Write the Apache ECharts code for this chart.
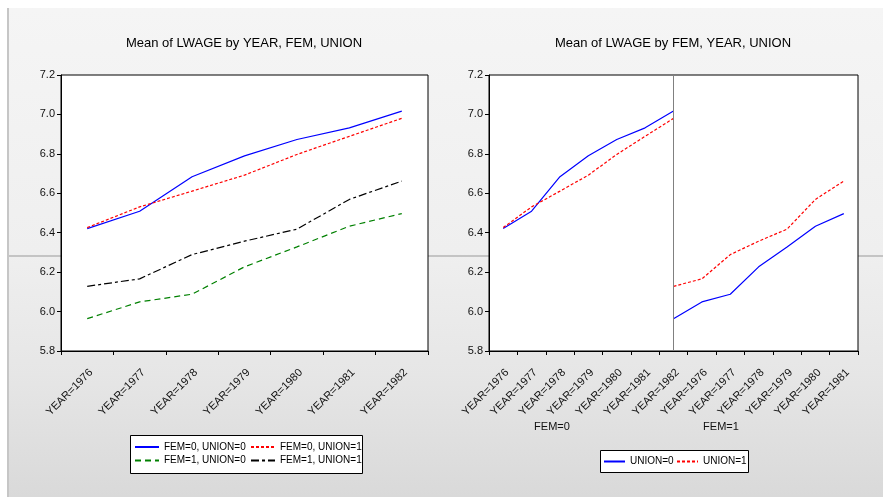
<!DOCTYPE html>
<html>
<head>
<meta charset="utf-8">
<script src="https://cdn.jsdelivr.net/npm/echarts@6/dist/echarts.min.js"></script>
<style>
  html, body { margin: 0; padding: 0; background: #fff; }
  #wrap { position: relative; width: 883px; height: 497px; overflow: hidden; background: #fff; }
  #bg { position: absolute; left: 9px; top: 8px; right: 0; bottom: 0;
        background: linear-gradient(to bottom, #f5f5f5 0%, #efefef 50%, #e6e6e6 75%, #d9d9d9 100%); }
  #vline { position: absolute; left: 7px; top: 8px; width: 2px; bottom: 0; background: #c6c6c6; }
  #hline { position: absolute; left: 9px; right: 0; top: 255px; height: 2px; background: #c4c4c4; }
  #ech { position: absolute; left: 0; top: 0; width: 883px; height: 497px; }
</style>
</head>
<body>
<div id="wrap">
  <div id="bg"></div>
  <div id="vline"></div>
  <div id="hline"></div>
  <div id="ech"></div>
</div>
<script>
// 数据
var years = ['YEAR=1976', 'YEAR=1977', 'YEAR=1978', 'YEAR=1979', 'YEAR=1980', 'YEAR=1981', 'YEAR=1982'];
var yTicks = [5.8, 6.0, 6.2, 6.4, 6.6, 6.8, 7.0, 7.2];
var fem0union0 = [6.421, 6.509, 6.684, 6.790, 6.873, 6.932, 7.017];
var fem0union1 = [6.426, 6.531, 6.611, 6.692, 6.797, 6.889, 6.980];
var fem1union0 = [5.964, 6.049, 6.088, 6.227, 6.328, 6.433, 6.497];
var fem1union1 = [6.128, 6.166, 6.289, 6.357, 6.418, 6.569, 6.662];
// 右图横轴标签 (EViews 原图就是13个)
var rightCats = years.concat(years.slice(0, 6));

var font = "'Liberation Sans Narrow', 'Liberation Sans', Arial, sans-serif";

function pad(arr, before, after) {
    var out = [];
    for (var i = 0; i < before; i++) out.push(null);
    out = out.concat(arr);
    for (var j = 0; j < after; j++) out.push(null);
    return out;
}

function xAxisOf(grid, cats) {
    return {
        type: 'category', gridIndex: grid, data: cats, boundaryGap: true,
        axisLine: { lineStyle: { color: '#000', width: 1 } },
        axisTick: { show: true, interval: 0, length: 4, lineStyle: { color: '#000' } },
        axisLabel: { interval: 0, rotate: 45, fontSize: 11, color: '#111', fontFamily: font,
            margin: 16, verticalAlign: 'top' },
        splitLine: { show: false }
    };
}
function yAxisOf(grid) {
    return {
        type: 'value', gridIndex: grid, min: yTicks[0], max: yTicks[yTicks.length - 1], interval: 0.2,
        axisLine: { show: true, lineStyle: { color: '#000', width: 1 } },
        axisTick: { show: true, length: 4, lineStyle: { color: '#000' } },
        axisLabel: { fontSize: 11, color: '#111', fontFamily: font, margin: 6,
            formatter: function (v) { return v.toFixed(1); } },
        splitLine: { show: false }
    };
}
function lineOf(name, data, color, dash, xi, yi) {
    return {
        name: name, type: 'line', xAxisIndex: xi, yAxisIndex: yi, data: data,
        symbol: 'none', connectNulls: false, animation: false,
        lineStyle: { color: color, width: 1.2, type: dash },
        itemStyle: { color: color }
    };
}
// 图例 (一个图例只放一项，方便对齐)
function legendOf(name, left, top, w) {
    return {
        data: [name], left: left, top: top, padding: 0,
        itemWidth: w, itemHeight: 10, selectedMode: false,
        itemStyle: { opacity: 0 },
        textStyle: { fontSize: 10, color: '#000', fontFamily: font }
    };
}

var ownChart = echarts.init(document.getElementById('ech'));

var rightBlue0 = lineOf('UNION=0', pad(fem0union0, 0, 6), '#0000ff', 'solid', 1, 1);
rightBlue0.markLine = {
    silent: true, symbol: ['none', 'none'], label: { show: false }, animation: false,
    lineStyle: { color: '#808080', type: 'solid', width: 1 },
    data: [{ xAxis: 6 }]
};

var option = {
    backgroundColor: 'transparent',
    title: [
        { text: 'Mean of LWAGE by YEAR, FEM, UNION', left: 244, top: 37, textAlign: 'center', padding: 0,
          textStyle: { fontSize: 13, fontWeight: 'normal', color: '#000', fontFamily: font } },
        { text: 'Mean of LWAGE by FEM, YEAR, UNION', left: 673, top: 37, textAlign: 'center', padding: 0,
          textStyle: { fontSize: 13, fontWeight: 'normal', color: '#000', fontFamily: font } }
    ],
    grid: [
        { left: 61, top: 75, width: 367, height: 276, show: true, backgroundColor: '#fff', borderColor: '#000', borderWidth: 1, containLabel: false },
        { left: 489, top: 75, width: 369, height: 276, show: true, backgroundColor: '#fff', borderColor: '#000', borderWidth: 1, containLabel: false }
    ],
    xAxis: [xAxisOf(0, years), xAxisOf(1, rightCats)],
    yAxis: [yAxisOf(0), yAxisOf(1)],
    legend: [
        legendOf('FEM=0, UNION=0', 134, 442, 24),
        legendOf('FEM=0, UNION=1', 250, 442, 24),
        legendOf('FEM=1, UNION=0', 134, 455.5, 24),
        legendOf('FEM=1, UNION=1', 250, 455.5, 24),
        legendOf('UNION=0', 603, 456.5, 21),
        legendOf('UNION=1', 676, 456.5, 21)
    ],
    graphic: [
        { type: 'rect', z: -1, shape: { x: 130.5, y: 435.5, width: 232, height: 38 },
          style: { fill: '#fff', stroke: '#000', lineWidth: 1 } },
        { type: 'rect', z: -1, shape: { x: 600.5, y: 450.5, width: 148, height: 22 },
          style: { fill: '#fff', stroke: '#000', lineWidth: 1 } },
        { type: 'text', x: 552, y: 427, style: { text: 'FEM=0', fontSize: 11, fill: '#111', fontFamily: font, align: 'center', verticalAlign: 'middle' } },
        { type: 'text', x: 721, y: 427, style: { text: 'FEM=1', fontSize: 11, fill: '#111', fontFamily: font, align: 'center', verticalAlign: 'middle' } }
    ],
    series: [
        lineOf('FEM=0, UNION=0', fem0union0, '#0000ff', 'solid', 0, 0),
        lineOf('FEM=0, UNION=1', fem0union1, '#ff0000', [3, 2], 0, 0),
        lineOf('FEM=1, UNION=0', fem1union0, '#008000', [6, 4], 0, 0),
        lineOf('FEM=1, UNION=1', fem1union1, '#000000', [8, 3, 3, 3], 0, 0),
        rightBlue0,
        lineOf('UNION=1', pad(fem0union1, 0, 6), '#ff0000', [3, 2], 1, 1),
        lineOf('UNION=0', pad(fem1union0, 6, 0), '#0000ff', 'solid', 1, 1),
        lineOf('UNION=1', pad(fem1union1, 6, 0), '#ff0000', [3, 2], 1, 1)
    ]
};

ownChart.setOption(option);
</script>
</body>
</html>
